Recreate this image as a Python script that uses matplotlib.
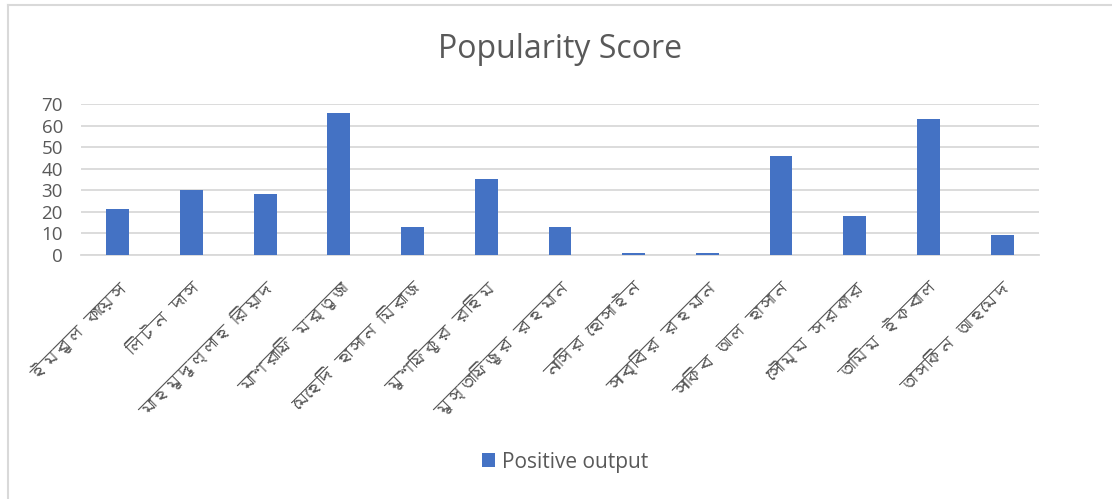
"""Popularity score bar chart (Excel style)."""

import matplotlib
matplotlib.use("Agg")
import matplotlib.pyplot as plt
from matplotlib import font_manager
from matplotlib.lines import Line2D

players = ["ইমরুল কায়েস", "লিটন দাস", "মাহমুদুল্লাহ রিয়াদ", "মাশরাফি মর্তুজা",
           "মেহেদি হাসান মিরাজ", "মুশফিকুর রহিম", "মুস্তাফিজুর রহমান",
           "নাসির হোসাইন", "সাব্বির রহমান", "সাকিব আল হাসান",
           "সৌম্য সরকার", "তামিম ইকবাল", "তাসকিন আহমেদ"]
positive_output = [21, 30, 28, 66, 13, 35, 13, 1, 1, 46, 18, 63, 9]
yticks = [0, 10, 20, 30, 40, 50, 60, 70]

grey_text = "#595959"
bar_color = "#4472c4"
grid_color = "#d9d9d9"


def bengali_family():
    """Look for any installed font that has Bengali letters."""
    try:
        from fontTools.ttLib import TTFont
    except ImportError:
        return None
    for path in sorted(font_manager.findSystemFonts()):
        try:
            font = TTFont(path, fontNumber=0, lazy=True)
            if ord("ক") in font.getBestCmap():
                return font_manager.FontProperties(fname=path).get_name()
        except Exception:
            continue
    return None


bn = bengali_family()
label_family = [bn, "DejaVu Sans"] if bn else ["DejaVu Sans"]
plt.rcParams["font.family"] = ["Open Sans", "DejaVu Sans"]

fig = plt.figure(figsize=(11.12, 4.99), dpi=100)
ax = fig.add_axes([0.0728, 0.4896, 0.8615, 0.302])

x = range(len(players))
ax.bar(x, positive_output, width=0.31, color=bar_color, zorder=3,
       label="Positive output")

ax.set_xlim(-0.5, len(players) - 0.5)
ax.set_ylim(0, 70)
ax.set_yticks(yticks)
ax.set_yticklabels([str(v) for v in yticks], fontsize=13.5, color=grey_text)
ax.yaxis.grid(True, color=grid_color, linewidth=1.3, zorder=0)
ax.set_xticks(list(x))
ax.set_xticklabels(players, rotation=45, ha="right", rotation_mode="anchor",
                   fontsize=12.5, color=grey_text, family=label_family)
ax.tick_params(length=0)
ax.tick_params(axis="y", pad=13)
ax.tick_params(axis="x", pad=17)
for side in ["top", "right", "left"]:
    ax.spines[side].set_visible(False)
ax.spines["bottom"].set_color(grid_color)
ax.spines["bottom"].set_linewidth(1.3)

fig.text(0.504, 0.90, "Popularity Score", ha="center", va="center",
         fontsize=23, color=grey_text)
fig.legend(loc="center", bbox_to_anchor=(0.508, 0.074), frameon=False,
           fontsize=15, handlelength=0.65, handleheight=0.65, handletextpad=0.3,
           labelcolor=grey_text)

# chart border (only top and left are visible in the picture)
fig.add_artist(Line2D([0.0075, 1.0], [0.989, 0.989], transform=fig.transFigure,
                      color=grid_color, linewidth=1.5))
fig.add_artist(Line2D([0.0075, 0.0075], [0.0, 0.989], transform=fig.transFigure,
                      color=grid_color, linewidth=1.5))

fig.savefig("out.png", dpi=100)
